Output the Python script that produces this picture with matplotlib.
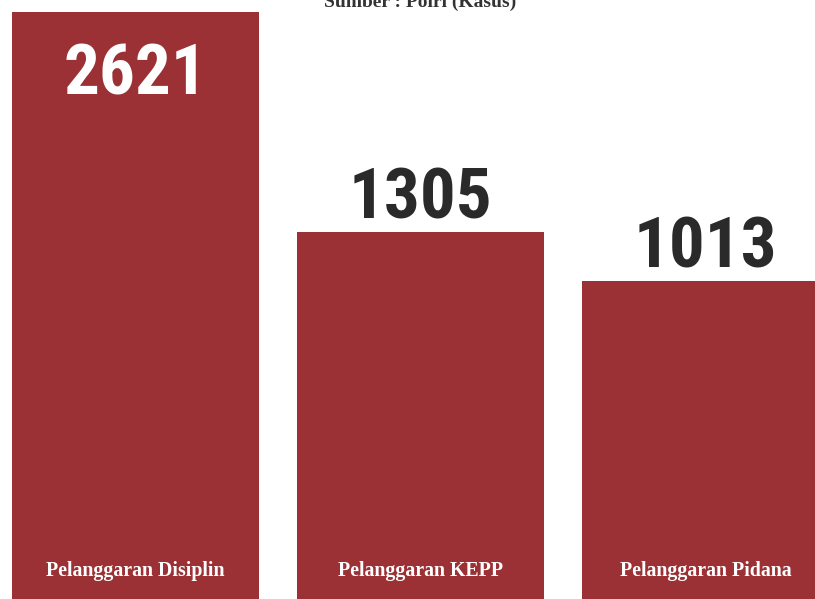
import matplotlib
matplotlib.use("Agg")
import matplotlib.pyplot as plt
from matplotlib import font_manager

# data
categories = ["Pelanggaran Disiplin", "Pelanggaran KEPP", "Pelanggaran Pidana"]
values = [2621, 1305, 1013]
title = "Sumber : Polri (Kasus)"

bar_color = "#9c3135"

# pick a narrow font if one is around
names = set(f.name for f in font_manager.fontManager.ttflist)
narrow = [n for n in ["Liberation Sans Narrow", "Roboto Condensed", "Open Sans Condensed",
                      "DejaVu Sans Condensed", "Noto Sans Display"] if n in names]
num_font = narrow[:1] + ["DejaVu Sans"]
lab_font = ["Liberation Serif", "DejaVu Serif"]

fig = plt.figure(figsize=(8.15, 5.99), dpi=100)
ax = fig.add_axes([0, 0, 1, 1])

ymin, ymax = -889, 2693
x = list(range(len(categories)))
# bars run from the bottom edge of the picture up to their value
ax.bar(x, [v - ymin for v in values], width=0.867, color=bar_color, bottom=ymin)

ax.set_xlim(-0.475, 2.384)
ax.set_ylim(ymin, ymax)
ax.axis("off")

# value labels: first one inside the bar, others above
for i, v in enumerate(values):
    if i == 0:
        ax.text(i, v - 175, str(v), ha="center", va="top", color="white",
                fontsize=51, fontweight="bold", family=num_font)
    else:
        ax.text(i, v - 5, str(v), ha="center", va="bottom", color="#2a2a2a",
                fontsize=51, fontweight="bold", family=num_font)

# category labels at the bottom of each bar
for i, c in enumerate(categories):
    ax.text(i, -720, c, ha="center", va="center", color="white",
            fontsize=14.3, fontweight="bold", family=lab_font)

fig.text(0.515, 1 - 7 / 599, title, ha="center", va="baseline", color="#333333",
         fontsize=14, fontweight="bold", family=lab_font)

fig.savefig("out.png", dpi=100)
